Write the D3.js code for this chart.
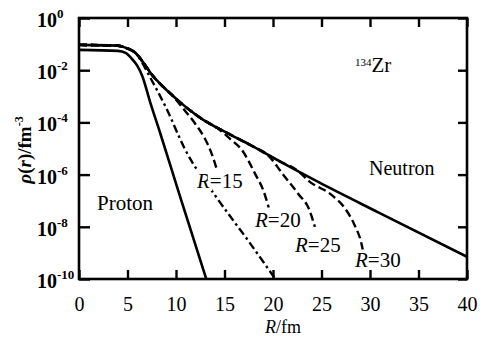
<!DOCTYPE html>
<html><head><meta charset="utf-8">
<script src="https://cdn.jsdelivr.net/npm/d3@7"></script>
<style>
html,body{margin:0;padding:0;background:#fff;}
svg{display:block;}
svg text{font-family:"Liberation Serif","Times New Roman",serif;}
</style></head><body>
<svg id="c" width="485" height="338" font-family="Liberation Serif, serif"></svg>
<script>
// ---- data (r in fm, density in fm^-3) ----
const xTickValues = [0, 5, 10, 15, 20, 25, 30, 35, 40];
const yTickExponents = [0, -2, -4, -6, -8, -10];

const neutronR   = [0, 4.0, 5.0, 5.8, 6.8, 7.5, 8.5, 9.5, 10.5, 11.5, 12.5, 15.6, 17.6, 20.7, 24.8, 30.9, 40];
const neutronRho = [0.093, 0.087, 0.068, 0.047, 0.016, 6.8e-3, 2.7e-3, 1.2e-3, 5.6e-4, 2.8e-4, 1.5e-4, 3.4e-5, 1.4e-5, 3.2e-6, 4.9e-7, 3.5e-8, 7.1e-10];

const protonR   = [0, 4.0, 4.8, 5.5, 6.0, 6.5, 7.4, 8.4, 10.3, 13.2];
const protonRho = [0.060, 0.055, 0.046, 0.026, 0.015, 6.3e-3, 5.0e-4, 3.6e-5, 2.0e-7, 8.1e-11];

const dashDotR   = [0, 4.0, 5.0, 5.8, 6.6, 7.2, 9.0, 10.9, 14.2, 17.4, 20.3];
const dashDotRho = [0.093, 0.087, 0.068, 0.047, 0.017, 6.6e-3, 3.5e-4, 9.8e-6, 1.3e-7, 3.1e-9, 9.3e-11];

// box-radius curves: neutron curve up to departure r, then own tail
const boxRadii  = [15, 20, 25, 30];
const departR   = [9.5, 14.07, 19.6, 22.5];
const departRho = [1.2e-3, 6.8e-5, 5.0e-6, 1.45e-6];
const tail15R   = [10.8, 12.0, 13.0, 13.7, 14.2];
const tail15Rho = [3.2e-4, 8.7e-5, 2.3e-5, 6.0e-6, 1.6e-6];
const tail20R   = [15.6, 16.8, 18.2, 19.0, 19.56];
const tail20Rho = [2.3e-5, 8.7e-6, 1.0e-6, 2.5e-7, 5.5e-8];
const tail25R   = [21.0, 22.67, 23.67, 24.32];
const tail25Rho = [1.05e-6, 1.7e-7, 5.2e-8, 1.0e-8];
const tail30R   = [23.73, 26.1, 27.45, 28.44, 29.09, 29.25];
const tail30Rho = [5.5e-7, 1.6e-7, 4.9e-8, 1.1e-8, 2.5e-9, 1.35e-9];

const labelNeutron = "Neutron";
const labelProton = "Proton";

// ---- drawing ----
const FONT = '"Liberation Serif", "Times New Roman", serif';
const svg = d3.select("#c");
const L = 79, R = 467, T = 18, B = 279;
const x = d3.scaleLinear().domain([0, 40]).range([L, R]);
const y = d3.scaleLog().domain([1e-10, 1]).range([B, T]);

const pts = (rs, vs) => rs.map((r, i) => [r, vs[i]]);
const line = d3.line().x(d => x(d[0])).y(d => y(d[1])).curve(d3.curveMonotoneX);

svg.append("defs").append("clipPath").attr("id", "clip")
  .append("rect").attr("x", L).attr("y", T).attr("width", R - L).attr("height", B - T);

const plot = svg.append("g").attr("clip-path", "url(#clip)");

const tails = [[tail15R, tail15Rho], [tail20R, tail20Rho], [tail25R, tail25Rho], [tail30R, tail30Rho]];
boxRadii.forEach((Rb, k) => {
  const head = pts(neutronR, neutronRho).filter(d => d[0] < departR[k]);
  head.push([departR[k], departRho[k]]);
  const data = head.concat(pts(tails[k][0], tails[k][1]));
  plot.append("path").attr("d", line(data))
    .attr("fill", "none").attr("stroke", "#000").attr("stroke-width", 2.4)
    .attr("stroke-dasharray", "8,4");
});

plot.append("path").attr("d", line(pts(dashDotR, dashDotRho)))
  .attr("fill", "none").attr("stroke", "#000").attr("stroke-width", 2.4)
  .attr("stroke-dasharray", "8,3.5,2.5,3.5");

plot.append("path").attr("d", line(pts(neutronR, neutronRho)))
  .attr("fill", "none").attr("stroke", "#000").attr("stroke-width", 2.6);
plot.append("path").attr("d", line(pts(protonR, protonRho)))
  .attr("fill", "none").attr("stroke", "#000").attr("stroke-width", 2.6);

// axes (inward ticks)
const gx = svg.append("g").attr("transform", `translate(0,${B})`)
  .call(d3.axisBottom(x).tickValues(xTickValues).tickSizeInner(-9).tickSizeOuter(0).tickPadding(18));
const gxt = svg.append("g").attr("transform", `translate(0,${T})`)
  .call(d3.axisTop(x).tickValues(xTickValues).tickSizeInner(-9).tickSizeOuter(0).tickFormat(""));
const yTickVals = yTickExponents.map(e => Math.pow(10, e));
const gy = svg.append("g").attr("transform", `translate(${L},0)`)
  .call(d3.axisLeft(y).tickValues(yTickVals).tickSizeInner(-11).tickSizeOuter(0).tickFormat(""));
const gyr = svg.append("g").attr("transform", `translate(${R},0)`)
  .call(d3.axisRight(y).tickValues(yTickVals).tickSizeInner(-9).tickSizeOuter(0).tickFormat(""));
[gx, gxt, gy, gyr].forEach(g => {
  g.attr("font-family", FONT);
  g.select(".domain").remove();
  g.selectAll(".tick line").attr("stroke", "#000").attr("stroke-width", 2.4);
});
gx.selectAll(".tick text").attr("font-size", 20).attr("fill", "#000");

svg.append("rect").attr("x", L).attr("y", T).attr("width", R - L).attr("height", B - T)
  .attr("fill", "none").attr("stroke", "#000").attr("stroke-width", 2.6);

// y tick labels 10^n
yTickExponents.forEach(e => {
  const t = svg.append("text").attr("x", 37).attr("y", y(Math.pow(10, e)) + 9)
    .attr("font-family", FONT).attr("font-size", 20).attr("font-weight", "bold");
  t.append("tspan").text("10");
  t.append("tspan").attr("dy", -9).attr("font-size", 13).text(e === 0 ? "0" : "-" + (-e));
});

// axis titles
const yt = svg.append("text").attr("transform", "translate(31,150) rotate(-90)")
  .attr("font-family", FONT).attr("text-anchor", "middle").attr("font-size", 19).attr("font-weight", "bold");
yt.append("tspan").attr("font-style", "italic").text("ρ");
yt.append("tspan").text("(");
yt.append("tspan").attr("font-style", "italic").text("r");
yt.append("tspan").text(")/fm");
yt.append("tspan").attr("dy", -8).attr("font-size", 12).text("-3");

const xt = svg.append("text").attr("x", 283).attr("y", 333).attr("text-anchor", "middle")
  .attr("font-family", FONT).attr("font-size", 18);
xt.append("tspan").attr("font-style", "italic").text("R");
xt.append("tspan").text("/fm");

// annotations
svg.append("text").attr("x", 369).attr("y", 175).attr("font-family", FONT).attr("font-size", 20).text(labelNeutron);
svg.append("text").attr("x", 97).attr("y", 210).attr("font-family", FONT).attr("font-size", 21).text(labelProton);
const zr = svg.append("text").attr("x", 355).attr("y", 72).attr("font-family", FONT).attr("font-size", 21);
zr.append("tspan").attr("font-size", 11).attr("dy", -6).text("134");
zr.append("tspan").attr("dy", 6).text("Zr");

const rLabelPos = [[197, 188], [255, 227], [295, 252], [355, 267]];
boxRadii.forEach((Rb, k) => {
  const t = svg.append("text").attr("x", rLabelPos[k][0]).attr("y", rLabelPos[k][1])
    .attr("font-family", FONT).attr("font-size", 21);
  if (k === 0) t.attr("stroke", "#fff").attr("stroke-width", 6).attr("paint-order", "stroke");
  t.append("tspan").attr("font-style", "italic").text("R");
  t.append("tspan").text("=" + Rb);
});
</script>
</body></html>
